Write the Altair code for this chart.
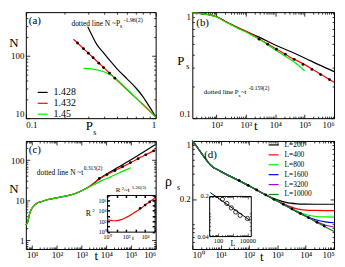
import math
import altair as alt
import pandas as pd

SERIF = "Liberation Serif"
BLK, RED, GRN, BLU, VIO, DGR = "#000000", "#ff0000", "#00ee00", "#0000ff", "#b000e0", "#008b00"

# ---------------- (a)  N versus P_s ----------------
a_series = ["1.428", "1.432", "1.45"]
a_black_P = [0.30, 0.33, 0.35, 0.40, 0.45, 0.50, 0.60, 0.70, 0.80, 0.90, 1.00]
a_black_N = [291, 195, 155, 109, 81, 63, 43, 31, 22, 15, 10.5]
a_red_P = [0.233, 0.30, 0.40, 0.50, 0.60, 0.70, 0.80, 0.90, 1.00]
a_red_N = [184, 112, 64, 41.2, 28.8, 21.3, 16.4, 13.0, 10.5]
a_green_P = [0.278, 0.32, 0.37, 0.42, 0.48, 0.55, 0.62, 0.70, 0.80, 0.90, 1.00]
a_green_N = [63, 61.5, 58, 53, 45, 35, 27.5, 21.5, 16.6, 13.1, 10.5]
a_dot_P = [0.250, 0.278, 0.303, 0.330, 0.365, 0.397, 0.441, 0.485]
a_dot_N = [160, 130, 110, 93, 76, 64.7, 52.7, 43.7]

# ---------------- (b)  P_s versus t ----------------
b_t = [15, 20, 30, 50, 100, 200, 316, 500, 1000, 2000, 3162, 10000, 30000, 100000, 300000, 1000000]
b_black = [0.985, 0.98, 0.97, 0.95, 0.905, 0.817, 0.767, 0.72, 0.66, 0.605, 0.572, 0.49, 0.43, 0.37, 0.32, 0.275]
b_red = [0.985, 0.98, 0.97, 0.95, 0.905, 0.817, 0.767, 0.72, 0.66, 0.595, 0.55, 0.455, 0.38, 0.32, 0.267, 0.218]
b_green_t = [15, 20, 30, 50, 100, 200, 316, 500, 1000, 2000, 3162, 10000, 20000, 50000, 100000]
b_green = [0.985, 0.978, 0.965, 0.945, 0.9, 0.81, 0.76, 0.71, 0.65, 0.585, 0.545, 0.44, 0.39, 0.33, 0.28]
b_dot_t = [2800, 5500, 11000, 22000, 44000, 88000, 176000, 350000, 700000]
b_dot_P = [0.556, 0.499, 0.447, 0.401, 0.359, 0.321, 0.288, 0.258, 0.231]

# ---------------- (c)  N versus t ----------------
c_t = [5.5, 6.4, 7.9, 10, 12.4, 16, 22.7, 40, 75, 150, 340, 700, 1500, 3000, 5250, 10000, 30000, 100000, 300000, 1000000]
c_black = [2.4, 2.7, 4.7, 6.4, 7.5, 8.5, 9.1, 10.2, 11, 12, 13.3, 15.5, 19.4, 25.8, 34.5, 44.5, 66, 102, 155, 245]
c_red = [2.4, 2.7, 4.7, 6.4, 7.5, 8.5, 9.1, 10.2, 11, 12, 13.3, 15.5, 19.4, 25.5, 33.5, 42.5, 60, 87, 125, 180]
c_green_t = [5.5, 6.4, 7.9, 10, 12.4, 16, 22.7, 40, 75, 150, 340, 700, 1500, 3000, 6900, 15000, 31000, 60000, 100000]
c_green = [2.4, 2.7, 4.7, 6.4, 7.5, 8.5, 9.1, 10.2, 11, 12, 13.3, 15.5, 19.4, 24, 31, 38, 47, 56, 64]
c_dot_t = [5250, 10700, 22400, 45700, 95500, 195000, 398000, 832000]
c_dot_N = [34.8, 43.5, 54.8, 68.5, 86.3, 108, 135, 170]
# inset of (c): R^2 versus t
ci_t = [1, 2, 4, 8, 15, 30, 60, 100, 200, 400, 1000, 2000, 5000, 10000, 20000, 50000, 100000]
ci_R2 = [200, 150, 120, 120, 140, 200, 330, 500, 1000, 2000, 6000, 14000, 45000, 120000, 300000, 1000000, 2500000]
ci_dot_t = [3000, 10000, 30000]
ci_dot_R2 = [30000, 120000, 480000]

# ---------------- (d)  rho_s versus t ----------------
d_series = ["L=200", "L=400", "L=800", "L=1600", "L=3200", "L=10000"]
d_colors = [BLK, RED, GRN, BLU, VIO, DGR]
d_t = [1, 1.5, 2, 2.7, 3.5, 4.5, 5.5, 7, 10, 20, 40, 100, 200, 500, 1000, 2000, 5000, 10000, 20000, 50000, 100000]
d_L200 = [1.0, 0.84, 0.73, 0.63, 0.56, 0.51, 0.48, 0.46, 0.43, 0.38, 0.34, 0.288, 0.253, 0.216, 0.196, 0.182, 0.175, 0.1735, 0.173, 0.173, 0.173]
d_L400 = [1.0, 0.84, 0.73, 0.63, 0.56, 0.51, 0.48, 0.46, 0.43, 0.38, 0.34, 0.288, 0.253, 0.214, 0.19, 0.17, 0.152, 0.147, 0.1455, 0.145, 0.145]
d_L800 = [1.0, 0.84, 0.73, 0.63, 0.56, 0.51, 0.48, 0.46, 0.43, 0.38, 0.34, 0.288, 0.253, 0.214, 0.189, 0.166, 0.143, 0.13, 0.124, 0.1215, 0.121]
d_L1600 = [1.0, 0.84, 0.73, 0.63, 0.56, 0.51, 0.48, 0.46, 0.43, 0.38, 0.34, 0.288, 0.253, 0.214, 0.189, 0.166, 0.14, 0.125, 0.114, 0.106, 0.1035]
d_L3200 = [1.0, 0.84, 0.73, 0.63, 0.56, 0.51, 0.48, 0.46, 0.43, 0.38, 0.34, 0.288, 0.253, 0.214, 0.189, 0.166, 0.14, 0.124, 0.11, 0.0965, 0.092]
d_L10000 = [1.0, 0.84, 0.73, 0.63, 0.56, 0.51, 0.48, 0.46, 0.43, 0.38, 0.34, 0.288, 0.253, 0.214, 0.189, 0.166, 0.14, 0.124, 0.109, 0.092, 0.081]
d_dot_t = [45, 93, 187, 390, 760, 1620, 3300, 6500, 12600, 25000, 45000]
d_dot_rho = [0.333, 0.292, 0.257, 0.224, 0.198, 0.173, 0.152, 0.134, 0.119, 0.105, 0.0946]
# inset of (d): plateau density versus L
di_L = [200, 400, 800, 1600, 3200, 10000]
di_rho = [0.175, 0.148, 0.124, 0.105, 0.092, 0.081]
di_fit_L = [30, 15000]
di_fit_rho = [0.229, 0.075]

# ---------------- helpers ----------------
DEC = "abs(log(datum.value)/LN10 - round(log(datum.value)/LN10)) < 0.001"
SUP = ("'10' + substring('\u2070\u00b9\u00b2\u00b3\u2074\u2075\u2076\u2077\u2078\u2079', "
       "round(log(datum.value)/LN10), round(log(datum.value)/LN10) + 1)")
PLAIN = "format(datum.value, '~g')"


def log_ticks(lo, hi):
    out = []
    e = math.floor(math.log10(lo) + 1e-9)
    while 10 ** e <= hi * 1.0001:
        for m in range(1, 10):
            v = round(m * 10 ** e, 12)
            if lo * 0.9999 <= v <= hi * 1.0001:
                out.append(v)
        e += 1
    return out


def decades(lo, hi):
    return [v for v in log_ticks(lo, hi) if abs(math.log10(v) - round(math.log10(v))) < 1e-6]


def scl(dom, rng=None):
    if rng is None:
        return alt.Scale(type="log", domain=dom)
    return alt.Scale(type="log", domain=dom, range=rng)


def xy(xd, yd, xr=None, yr=None, xaxis=None, yaxis=None):
    return dict(
        x=alt.X("x:Q", scale=scl(xd, xr), axis=xaxis),
        y=alt.Y("y:Q", scale=scl(yd, yr), axis=yaxis),
    )


def line(xs, ys, color, xd, yd, xr=None, yr=None, width=1.2):
    df = pd.DataFrame({"x": xs, "y": ys, "o": list(range(len(xs)))})
    return alt.Chart(df).mark_line(color=color, strokeWidth=width, interpolate="monotone").encode(
        order="o:Q", **xy(xd, yd, xr, yr))


def dots(xs, ys, xd, yd, xr=None, yr=None, size=8, filled=True):
    df = pd.DataFrame({"x": xs, "y": ys})
    if filled:
        m = alt.Chart(df).mark_circle(color="black", size=size, opacity=1)
    else:
        m = alt.Chart(df).mark_point(color="black", size=size, strokeWidth=0.8, filled=False, opacity=1)
    return m.encode(**xy(xd, yd, xr, yr))


def long_df(names, xs_list, ys_list):
    rows = []
    for n, xs, ys in zip(names, xs_list, ys_list):
        for i, (x, y) in enumerate(zip(xs, ys)):
            rows.append({"s": n, "x": x, "y": y, "o": i})
    return pd.DataFrame(rows)


def legend(x, y, fs, size=100):
    return alt.Legend(orient="none", legendX=x, legendY=y, title=None, symbolType="stroke",
                      symbolSize=size, symbolStrokeWidth=1.2, labelFont=SERIF, labelFontSize=fs,
                      labelColor="black", rowPadding=0, padding=0, labelOffset=5, offset=0)


def series_layer(df, names, colors, xd, yd, leg, width=1.2):
    return alt.Chart(df).mark_line(strokeWidth=width, interpolate="monotone").encode(
        color=alt.Color("s:N", scale=alt.Scale(domain=names, range=colors), legend=leg),
        order="o:Q", **xy(xd, yd))


def txt(s, x, y, size=8, align="left", baseline="middle", style="normal"):
    df = pd.DataFrame({"t": [s]})
    return alt.Chart(df).mark_text(align=align, baseline=baseline, fontSize=size, font=SERIF,
                                   fontStyle=style, color="black").encode(
        text="t:N", x=alt.value(x), y=alt.value(y))


def dummy(xd, yd, xr, yr, xaxis=None, yaxis=None):
    df = pd.DataFrame({"x": [xd[0]], "y": [yd[0]]})
    return alt.Chart(df).mark_point(opacity=0, size=1).encode(**xy(xd, yd, xr, yr, xaxis, yaxis))


def frame(xd, yd, w, h, xr=None, yr=None, xt=None, yt=None, major=4.0, minor=2.0, tw=0.8,
          domain=False, xtest=DEC, ytest=DEC):
    X0, X1 = xr if xr else (0, w)
    Yb, Yt = yr if yr else (h, 0)
    xt = xt if xt is not None else log_ticks(*xd)
    yt = yt if yt is not None else log_ticks(*yd)
    kw = dict(labels=False, grid=False, ticks=True, tickColor="black", tickWidth=tw, title=None,
              domain=domain, domainColor="black", domainWidth=1)
    xs = {"condition": {"test": xtest, "value": major}, "value": minor}
    ys = {"condition": {"test": ytest, "value": major}, "value": minor}
    r1, r2 = [X0, X1], [Yb, Yt]
    return [
        dummy(xd, yd, r1, r2, xaxis=alt.Axis(orient="top", offset=-Yb, values=xt, tickSize=xs, **kw)),
        dummy(xd, yd, r1, r2, xaxis=alt.Axis(orient="bottom", offset=Yt - h, values=xt, tickSize=xs, **kw)),
        dummy(xd, yd, r1, r2, yaxis=alt.Axis(orient="right", offset=X0 - w, values=yt, tickSize=ys, **kw)),
        dummy(xd, yd, r1, r2, yaxis=alt.Axis(orient="left", offset=-X1, values=yt, tickSize=ys, **kw)),
    ]


def labels(xd, yd, w, h, xvals, yvals, xexpr, yexpr, xr=None, yr=None, size=9, pad=2, flush=True,
           xpad=None):
    X0, X1 = xr if xr else (0, w)
    Yb, Yt = yr if yr else (h, 0)
    kw = dict(ticks=False, tickSize=0, domain=False, grid=False, labelFont=SERIF, labelFontSize=size,
              labelColor="black", labelFlush=flush, labelOverlap=False, title=None)
    r1, r2 = [X0, X1], [Yb, Yt]
    return [
        dummy(xd, yd, r1, r2, xaxis=alt.Axis(orient="bottom", offset=Yb - h, values=xvals, labelExpr=xexpr,
                                             labelPadding=pad if xpad is None else xpad, **kw)),
        dummy(xd, yd, r1, r2, yaxis=alt.Axis(orient="left", offset=-X0, values=yvals, labelExpr=yexpr,
                                             labelPadding=pad, **kw)),
    ]


def panel(layers, w, h):
    return alt.layer(*layers).resolve_scale(x="independent", y="independent").properties(width=w, height=h)


# ---------------- panel (a) ----------------
WA, HA = 131, 107
xa, ya = [0.1, 1.0], [10, 500]
dfa = long_df(a_series, [a_black_P, a_red_P, a_green_P], [a_black_N, a_red_N, a_green_N])
la = [
    series_layer(dfa, a_series, [BLK, RED, GRN], xa, ya, legend(11, 75, 10)),
    dots(a_dot_P, a_dot_N, xa, ya),
    *frame(xa, ya, WA, HA),
    *labels(xa, ya, WA, HA, [0.1, 1.0], [10, 100], PLAIN, PLAIN),
    txt("(a)", 3, 3, 11, baseline="top"),
    txt("dotted line N ~P", 46, 11.5, 7.5),
    txt("s", 95, 14.5, 5.5),
    txt("-1.96(2)", 98.5, 8, 6),
    txt("N", -12, 31, 13, align="center"),
    txt("P", 64, HA + 8, 13, align="center"),
    txt("s", 69.5, HA + 15, 8, align="center"),
]
pa = panel(la, WA, HA)

# ---------------- panel (b) ----------------
WB, HB = 143, 107
xb, yb = [15, 1e6], [0.1, 1.0]
lb = [
    line(b_t, b_black, BLK, xb, yb),
    line(b_t, b_red, RED, xb, yb),
    line(b_green_t, b_green, GRN, xb, yb),
    dots(b_dot_t, b_dot_P, xb, yb),
    *frame(xb, yb, WB, HB),
    *labels(xb, yb, WB, HB, decades(100, 1e6), [0.1, 1.0], SUP, PLAIN),
    txt("(b)", 4, 5, 11, baseline="top"),
    txt("dotted line P", 11.5, 81, 7),
    txt("s", 46.5, 84, 5),
    txt(" ~t", 49, 81, 7),
    txt("-0.159(2)", 57, 77, 5.5),
    txt("P", -11.5, 49, 13, align="center"),
    txt("s", -4.5, 55, 8, align="center"),
    txt("t", 64, HB + 8, 13, align="center"),
]
pb = panel(lb, WB, HB)

# ---------------- panel (c) ----------------
WC, HC = 131, 109
xc, yc = [5.5, 1e6], [0.6, 300]
cix, ciy = [1, 1e5], [1, 1e7]
cxr, cyr = [82, 130], [91.5, 54.5]
lc = [
    line(c_t, c_black, BLK, xc, yc),
    line(c_t, c_red, RED, xc, yc),
    line(c_green_t, c_green, GRN, xc, yc),
    dots(c_dot_t, c_dot_N, xc, yc),
    *frame(xc, yc, WC, HC),
    *labels(xc, yc, WC, HC, decades(10, 1e6), [1, 10, 100], SUP, PLAIN),
    txt("(c)", 3, 3, 11, baseline="top"),
    txt("dotted line N ~t", 11, 32, 7.5),
    txt("0.313(2)", 58.5, 27.5, 5.5),
    txt("N", -12, 49, 13, align="center"),
    txt("t", 71, HC + 7, 13, align="center"),
    # inset
    line(ci_t, ci_R2, RED, cix, ciy, cxr, cyr),
    dots(ci_dot_t, ci_dot_R2, cix, ciy, cxr, cyr, size=7),
    *frame(cix, ciy, WC, HC, cxr, cyr, xt=decades(1, 1e5), yt=decades(1, 1e7), major=2.5, minor=2.5,
           tw=1.5, domain=True),
    *labels(cix, ciy, WC, HC, [1, 100, 10000], [1, 100, 10000, 1e6], SUP, SUP, cxr, cyr, size=6, pad=1,
            flush=False, xpad=2),
    txt("R", 63, 74, 8, align="center"),
    txt("2", 67, 70, 5),
    txt("R", 93, 50, 7, align="center"),
    txt("2", 96.5, 47, 5),
    txt(" ~t", 99, 50, 7),
    txt("1.26(3)", 107, 46.5, 5),
    txt("t", 108, 98, 7, align="center"),
]
pc = panel(lc, WC, HC)

# ---------------- panel (d) ----------------
WD, HD = 143, 109
xdd, ydd = [1, 1e5], [0.05, 1.0]
dix, diy = [25, 17000], [0.04, 0.2]
dxr, dyr = [17, 59], [96, 55.5]
dfd = long_df(d_series, [d_t] * 6, [d_L200, d_L400, d_L800, d_L1600, d_L3200, d_L10000])
YMAJ_D = "abs(datum.value - 0.2) < 1e-6 || abs(datum.value - 1) < 1e-6 || abs(datum.value - 0.04) < 1e-6"
ld = [
    series_layer(dfd, d_series, d_colors, xdd, ydd, legend(76, -2, 7.5)),
    dots(d_dot_t, d_dot_rho, xdd, ydd),
    *frame(xdd, ydd, WD, HD, ytest=YMAJ_D),
    *labels(xdd, ydd, WD, HD, decades(1, 1e5), [0.2, 1.0], SUP, PLAIN),
    txt("(d)", 12, 8, 11, baseline="top"),
    txt("\u03c1", -24, 41, 14, align="center"),
    txt("s", -14, 47, 8, align="center"),
    txt("t", 70, HD + 8, 13, align="center"),
    # inset
    line(di_fit_L, di_fit_rho, BLK, dix, diy, dxr, dyr, width=1),
    dots(di_L, di_rho, dix, diy, dxr, dyr, size=18, filled=False),
    *frame(dix, diy, WD, HD, dxr, dyr, major=3, minor=1.5, tw=0.6, domain=True, ytest=YMAJ_D),
    *labels(dix, diy, WD, HD, [100, 10000], [0.04, 0.2], PLAIN, PLAIN, dxr, dyr, size=6.5, pad=1,
            flush=False),
    txt("L", 41, 104, 8, align="center"),
]
pdd = panel(ld, WD, HD)

chart = alt.concat(pa, pb, pc, pdd, columns=2, spacing={"row": 23, "column": 37}, bounds="flush",
                   align="each")
chart = chart.resolve_scale(color="independent").configure_view(stroke="black", strokeWidth=1)
chart = chart.properties(padding=0, background="white")

chart.save("out.html", embed_options={"renderer": "svg", "actions": False})
